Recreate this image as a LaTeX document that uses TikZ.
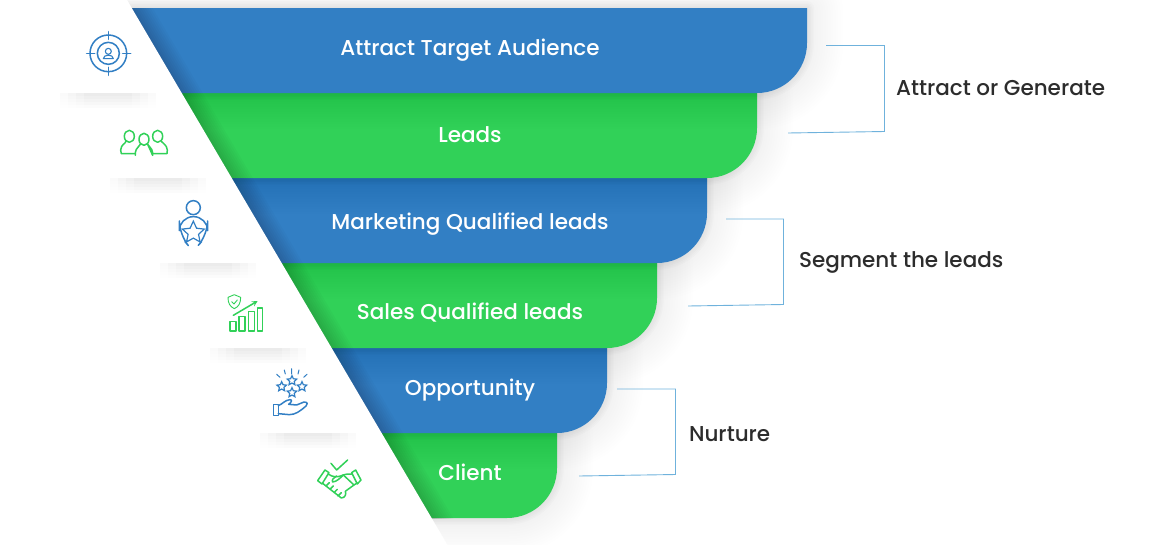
\documentclass[tikz,border=0pt]{standalone}
\usepackage{fontspec}
\setmainfont{Poppins}[UprightFont=* Medium]
\usetikzlibrary{shapes.geometric}
\definecolor{funnelblue}{HTML}{327FC4}
\definecolor{funnelgreen}{HTML}{31D158}
\definecolor{bracketblue}{HTML}{6FB2DC}
\definecolor{labeldark}{HTML}{2C2C2C}
\tikzset{bandtext/.style={text=white, font=\fontsize{21.5}{25}\selectfont}}
\tikzset{sidetext/.style={text=labeldark, anchor=west, font=\fontsize{21.5}{25}\selectfont}}
\tikzset{bracket/.style={draw=bracketblue, line width=0.9pt, line join=miter}}
\tikzset{blueicon/.style={draw=funnelblue, line width=1.5pt, line join=round, line cap=round}}
\tikzset{greenicon/.style={draw=funnelgreen, line width=1.5pt, line join=round, line cap=round}}
\tikzset{iconstar/.style={star, star points=5, star point ratio=2.1, inner sep=0pt, draw=funnelblue, line width=1.2pt}}
\tikzset{zoomA/.style={shift={(50,0)}, x=0.3333pt, y=-0.3333pt}}
\tikzset{zoomB/.style={shift={(150,270)}, x=0.3333pt, y=-0.3333pt}}
\newcommand{\bandpath}[2]{(100,#1) -- (#2,#1) -- (#2,#1+35) arc[start angle=0, end angle=-90, radius=50pt] -- (100,#1+85) -- cycle}
\begin{document}
\begin{tikzpicture}[x=1pt, y=-1pt]
    \useasboundingbox (0,0) rectangle (1170,544);
    % bands, lowest first so each shadow falls on the next one
    \foreach \bandtop/\bandedge/\bandcolor in {433/557/funnelgreen, 348/607/funnelblue, 263/657/funnelgreen, 178/707/funnelblue, 93/757/funnelgreen, 8/807/funnelblue} {
        \foreach \w in {3, 8, ..., 68} {
            \draw[black, opacity=0.003, line width=\w pt, line join=round] [shift={(2,2)}] \bandpath{\bandtop}{\bandedge};
        }
        \foreach \w in {2, 5, ..., 14} {
            \draw[black, opacity=0.012, line width=\w pt, line join=round] \bandpath{\bandtop}{\bandedge};
        }
        \fill[\bandcolor] \bandpath{\bandtop}{\bandedge};
    }
    % darker edge along the slant
    \begin{scope}
        \clip (120,8) rectangle (470,518);
        \foreach \w in {4, 8, ..., 36} {
            \draw[black, opacity=0.018, line width=\w pt] (127.0,0) -- (447.5,544);
        }
    \end{scope}
    \fill[white] (-5,-5) -- (124.1,-5) -- (450.4,550) -- (-5,550) -- cycle;
    % strips under the icons
    \foreach \stripx/\stripy in {60/93, 110/178, 160/263, 210/348, 260/433} {
        \foreach \inset in {0, 8, 16, 24} {
            \foreach \depth in {3, 6, ..., 15} {
                \fill[black, opacity=0.003] (\stripx+\inset,\stripy) rectangle (\stripx+96-\inset,\stripy+\depth);
            }
        }
    }

    \node[bandtext] (audience) at (470,50.5) {Attract Target Audience};
    \node[bandtext] (leads) at (470,135) {Leads};
    \node[bandtext] (marketing) at (470,224) {Marketing Qualified leads};
    \node[bandtext] (sales) at (470,312.5) {Sales Qualified leads};
    \node[bandtext] (opportunity) at (470,390.5) {Opportunity};
    \node[bandtext] (client) at (470,472.5) {Client};

    \node[sidetext] (generate) at (892.5,88) {Attract or Generate};
    \node[sidetext] (segment) at (795.5,262.5) {Segment the leads};
    \node[sidetext] (nurture) at (685.5,434) {Nurture};

    \coordinate (generateA) at (826,45.5);
    \coordinate (generateB) at (884.5,45.5);
    \coordinate (generateC) at (884.5,131.5);
    \coordinate (generateD) at (788,133);
    \coordinate (segmentA) at (726,219);
    \coordinate (segmentB) at (783.5,219);
    \coordinate (segmentC) at (783.5,304.5);
    \coordinate (segmentD) at (688,306);
    \coordinate (nurtureA) at (617,389);
    \coordinate (nurtureB) at (675.5,389);
    \coordinate (nurtureC) at (675.5,474.5);
    \coordinate (nurtureD) at (579,476);
    \draw[bracket] (generateA) -- (generateB) -- (generateC) -- (generateD);
    \draw[bracket] (segmentA) -- (segmentB) -- (segmentC) -- (segmentD);
    \draw[bracket] (nurtureA) -- (nurtureB) -- (nurtureC) -- (nurtureD);

    % icons, in the pixels of the crops
    \begin{scope}[zoomA]
        \draw[blueicon] (175,160) circle[radius=55];
        \draw[blueicon] (175,160) circle[radius=33];
        \draw[blueicon] (175,95) -- (175,118) (175,202) -- (175,226) (110,160) -- (134,160) (218,160) -- (242,160);
        \draw[blueicon, line width=1.1pt] (175,154) circle[radius=9];
        \draw[blueicon, line width=1.1pt] (160,176) .. controls (160,162) and (190,162) .. (190,176) -- cycle;
        % group
        \draw[greenicon] (238,409) ellipse[x radius=15, y radius=18] (282,418) ellipse[x radius=15, y radius=18] (323,409) ellipse[x radius=15, y radius=18];
        \draw[greenicon] (256,461) -- (214,461) -- (212,450) .. controls (214,432) and (226,432) .. (228,424);
        \draw[greenicon] (305,461) -- (351,461) -- (352,450) .. controls (350,432) and (338,432) .. (334,424);
        \draw[greenicon] (256,466) -- (256,458) .. controls (258,442) and (268,442) .. (271,433) (293,433) .. controls (296,442) and (306,442) .. (308,458) -- (308,466) -- cycle;
        % person with star
        \draw[blueicon] (430,623) circle[radius=21];
        \draw[blueicon, rounded corners=14pt] (405,725) -- (388,705) -- (388,650) -- (473,650) -- (473,705) -- (455,725);
        \node[iconstar, fill=white, minimum size=23pt] (personstar) at (430,698) {};
    \end{scope}
    \begin{scope}[zoomB]
        % chart with shield
        \draw[greenicon] (240,155) rectangle (258,183) (267,140) rectangle (285,183) (295,125) rectangle (313,183) (322,114) rectangle (338,183);
        \draw[greenicon, ->, >=stealth] (250,136) -- (323,93);
        \draw[greenicon, line width=0.9pt] (253,74) -- (272,82) .. controls (272,100) and (266,110) .. (253,116) .. controls (240,110) and (234,100) .. (234,82) -- cycle;
        \draw[greenicon, line width=0.9pt] (245,95) -- (252,102) -- (262,90);
        % hand with stars
        \node[iconstar, minimum size=10pt] (starA) at (426,332) {};
        \node[iconstar, minimum size=10pt] (starB) at (395,350) {};
        \node[iconstar, minimum size=10pt] (starC) at (456,350) {};
        \node[iconstar, minimum size=10pt] (starD) at (426,368) {};
        \draw[blueicon, line width=1pt] (425,296) -- (425,312) (403,300) -- (406,312) (447,300) -- (444,312) (380,313) -- (390,322) (471,313) -- (461,322);
        \draw[blueicon] (370,404) rectangle (385,437);
        \draw[blueicon] (385,407) .. controls (398,402) and (405,390) .. (420,389) .. controls (428,389) and (424,398) .. (416,403) -- (440,405) -- (462,396) .. controls (474,396) and (474,404) .. (468,408) .. controls (450,424) and (436,434) .. (418,434) -- (385,431);
        % handshake
        \draw[greenicon] (503,632) -- (525,600) -- (537,608) -- (516,642) -- cycle;
        \draw[greenicon] (605,608) -- (617,600) -- (633,630) -- (622,642) -- cycle;
        \draw[greenicon] (543,580) -- (560,600) -- (593,570);
        \draw[greenicon] (534,612) .. controls (550,622) and (560,622) .. (572,618) .. controls (585,612) and (595,612) .. (606,612);
        \draw[greenicon] (620,640) -- (612,645) -- (580,615) .. controls (570,625) and (560,635) .. (548,636) .. controls (544,630) and (552,622) .. (560,618);
        \draw[greenicon] (518,640) -- (528,648) -- (574,684) .. controls (585,684) and (590,672) .. (586,664) (528,648) -- (538,638) (540,658) -- (550,648) (552,668) -- (562,658) (564,678) -- (574,668) (586,664) -- (612,645);
    \end{scope}
\end{tikzpicture}
\end{document}
